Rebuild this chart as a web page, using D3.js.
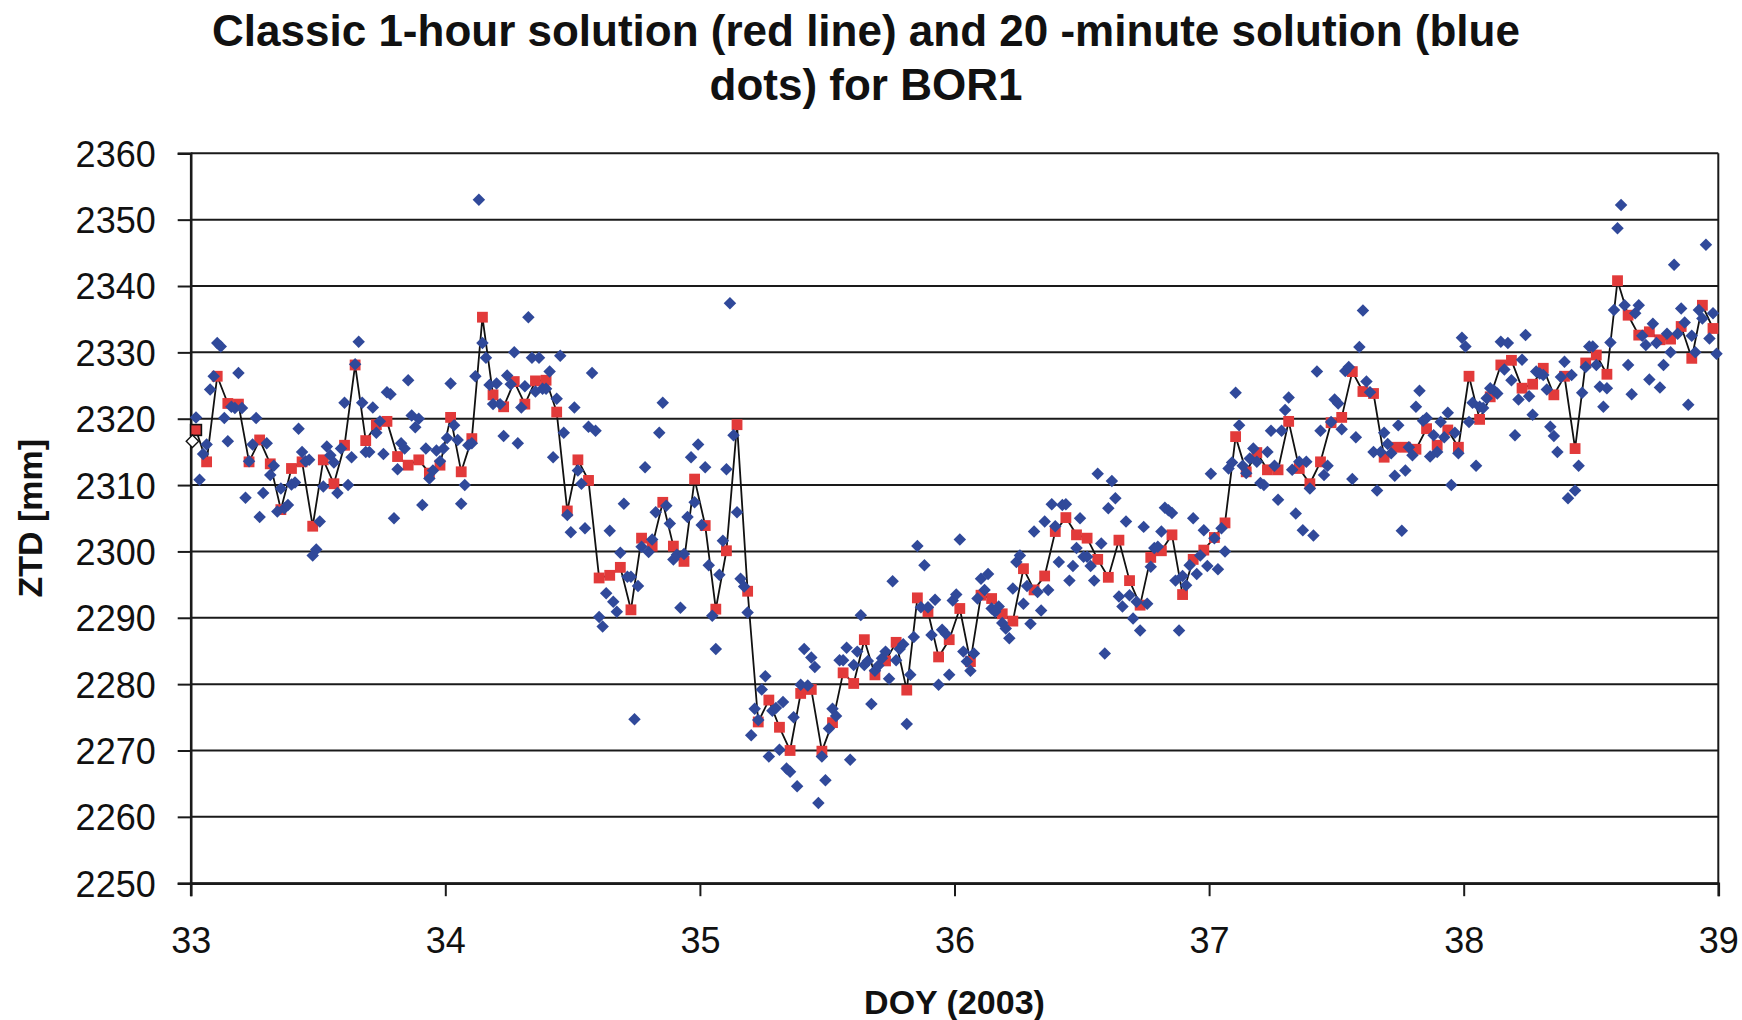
<!DOCTYPE html>
<html>
<head>
<meta charset="utf-8">
<script src="https://cdn.jsdelivr.net/npm/d3@7"></script>
<style>
  html, body { margin: 0; padding: 0; background: #ffffff; }
  svg { display: block; font-family: "Liberation Sans", Arial, sans-serif; }
</style>
</head>
<body>
<svg id="chart" width="1742" height="1020"></svg>
<script>
// ZTD for station BOR1, DOY 33-38 of 2003 [mm]
// Classic 1-hour solution: 24 epochs per day (mid-session)
const ztd1h_33 = [2318.3, 2313.5, 2326.4, 2322.3, 2322.2, 2313.5, 2316.8, 2313.2, 2306.3, 2312.5, 2313.5, 2303.8, 2313.8, 2310.2, 2316.0, 2328.1, 2316.7, 2319.1, 2319.6, 2314.3, 2313.0, 2313.8, 2311.8, 2313.0];
const ztd1h_34 = [2320.2, 2312.0, 2317.0, 2335.3, 2323.6, 2321.8, 2325.6, 2322.2, 2325.7, 2325.8, 2321.0, 2306.1, 2313.8, 2310.7, 2296.0, 2296.4, 2297.6, 2291.2, 2302.0, 2300.8, 2307.4, 2300.8, 2298.5, 2310.9];
const ztd1h_35 = [2303.9, 2291.3, 2300.1, 2319.1, 2294.0, 2274.3, 2277.6, 2273.5, 2270.0, 2278.6, 2279.2, 2269.9, 2274.2, 2281.7, 2280.1, 2286.7, 2281.4, 2283.5, 2286.3, 2279.1, 2293.0, 2290.9, 2284.1, 2286.7];
const ztd1h_36 = [2291.4, 2283.4, 2293.4, 2292.9, 2290.6, 2289.5, 2297.4, 2294.2, 2296.3, 2303.0, 2305.1, 2302.5, 2302.0, 2298.8, 2296.1, 2301.7, 2295.6, 2291.9, 2299.1, 2300.1, 2302.5, 2293.5, 2298.8, 2300.2];
const ztd1h_37 = [2302.1, 2304.3, 2317.3, 2312.0, 2314.9, 2312.3, 2312.3, 2319.6, 2312.5, 2310.2, 2313.5, 2319.4, 2320.2, 2327.1, 2324.1, 2323.8, 2314.2, 2315.7, 2315.7, 2315.4, 2318.5, 2316.0, 2318.3, 2315.7];
const ztd1h_38 = [2326.4, 2319.9, 2323.3, 2328.1, 2328.8, 2324.6, 2325.2, 2327.6, 2323.6, 2326.4, 2315.5, 2328.4, 2329.6, 2326.7, 2340.8, 2335.6, 2332.6, 2333.1, 2331.9, 2332.0, 2333.9, 2329.1, 2337.1, 2333.6];

// 20-minute solution: 72 epochs per day (mid-session)
const ztd20_33 = [2316.6, 2320.2, 2310.8, 2314.7, 2316.1, 2324.4, 2326.4, 2331.4, 2330.9, 2320.1,
  2316.6, 2321.8, 2321.6, 2326.9, 2321.6, 2308.1, 2313.6, 2316.1, 2320.1, 2305.2,
  2308.8, 2316.3, 2311.5, 2312.9, 2306.0, 2309.5, 2306.5, 2307.0, 2310.1, 2310.4,
  2318.5, 2315.0, 2313.6, 2313.8, 2299.4, 2300.3, 2304.5, 2309.8, 2315.8, 2314.5,
  2313.4, 2308.8, 2315.5, 2322.4, 2310.0, 2314.2, 2328.2, 2331.6, 2322.4, 2315.0,
  2315.0, 2321.7, 2317.9, 2319.6, 2314.7, 2324.0, 2323.7, 2305.0, 2312.4, 2316.3,
  2315.5, 2325.8, 2320.5, 2318.7, 2320.0, 2307.0, 2315.5, 2311.0, 2312.2, 2315.2,
  2313.6, 2315.5];
const ztd20_34 = [2317.1, 2325.3, 2319.0, 2316.8, 2307.2, 2310.0, 2316.0, 2316.3, 2326.4, 2353.0,
  2331.4, 2329.2, 2325.1, 2322.2, 2325.3, 2322.2, 2317.4, 2326.5, 2325.2, 2330.0,
  2316.3, 2321.7, 2324.9, 2335.3, 2329.2, 2324.1, 2329.2, 2324.5, 2324.5, 2327.1,
  2314.2, 2323.0, 2329.5, 2317.9, 2305.5, 2302.9, 2321.7, 2312.2, 2310.2, 2303.5,
  2318.8, 2326.9, 2318.2, 2290.1, 2288.7, 2293.7, 2303.1, 2292.4, 2290.9, 2299.8,
  2307.2, 2296.2, 2296.2, 2274.7, 2294.8, 2300.7, 2312.7, 2299.9, 2301.8, 2305.9,
  2317.9, 2322.4, 2306.9, 2304.2, 2298.8, 2299.5, 2291.5, 2299.6, 2305.2, 2314.2,
  2307.4, 2316.1];
const ztd20_35 = [2304.0, 2312.7, 2297.9, 2290.3, 2285.3, 2296.5, 2301.6, 2312.4, 2337.4, 2317.5,
  2305.9, 2295.9, 2294.7, 2290.8, 2272.3, 2276.3, 2274.6, 2279.2, 2281.2, 2269.1,
  2276.0, 2276.4, 2270.1, 2277.3, 2267.3, 2266.8, 2275.0, 2264.6, 2279.9, 2285.3,
  2279.8, 2284.0, 2282.6, 2262.1, 2269.1, 2265.5, 2273.3, 2276.3, 2275.2, 2283.6,
  2283.6, 2285.5, 2268.6, 2282.9, 2284.9, 2290.4, 2282.9, 2283.5, 2277.0, 2282.0,
  2282.8, 2283.9, 2284.9, 2280.8, 2295.5, 2283.6, 2285.3, 2286.0, 2274.0, 2281.4,
  2287.1, 2300.8, 2291.6, 2297.9, 2291.6, 2287.4, 2292.7, 2279.9, 2288.2, 2287.6,
  2281.4, 2292.6];
const ztd20_36 = [2293.5, 2301.8, 2284.9, 2283.4, 2282.0, 2284.6, 2292.9, 2295.9, 2294.2, 2296.6,
  2291.4, 2290.9, 2291.7, 2289.2, 2288.4, 2286.9, 2294.4, 2298.4, 2299.4, 2292.1,
  2294.8, 2289.1, 2303.0, 2293.9, 2291.1, 2304.5, 2294.2, 2307.1, 2303.8, 2298.4,
  2307.0, 2307.1, 2295.6, 2297.8, 2300.5, 2305.0, 2299.2, 2299.2, 2297.8, 2295.6,
  2311.7, 2301.2, 2284.6, 2306.5, 2310.6, 2308.0, 2293.2, 2291.7, 2304.5, 2293.4,
  2289.9, 2292.4, 2288.1, 2303.7, 2292.1, 2297.7, 2300.5, 2300.7, 2303.0, 2306.6,
  2306.2, 2305.8, 2295.6, 2288.1, 2296.3, 2294.9, 2297.9, 2305.0, 2296.6, 2299.4,
  2303.2, 2297.8];
const ztd20_37 = [2311.7, 2302.0, 2297.3, 2303.5, 2300.0, 2312.5, 2313.4, 2323.9, 2319.0, 2312.9,
  2311.8, 2314.0, 2315.5, 2313.5, 2310.3, 2310.0, 2315.0, 2318.2, 2312.9, 2307.8,
  2318.2, 2321.3, 2323.2, 2312.3, 2305.7, 2313.5, 2303.2, 2313.5, 2309.5, 2302.4,
  2327.1, 2318.2, 2311.5, 2312.9, 2319.5, 2322.9, 2322.3, 2318.4, 2327.2, 2327.8,
  2310.9, 2317.2, 2330.8, 2336.3, 2325.6, 2324.0, 2315.0, 2309.2, 2315.0, 2317.9,
  2316.2, 2314.8, 2311.4, 2319.0, 2303.1, 2312.2, 2315.7, 2314.5, 2321.8, 2324.2,
  2319.7, 2320.1, 2314.3, 2317.5, 2315.0, 2319.5, 2317.2, 2320.9, 2310.0, 2317.9,
  2314.8, 2332.2];
const ztd20_38 = [2330.9, 2319.5, 2322.4, 2312.9, 2321.8, 2321.6, 2323.1, 2324.6, 2324.3, 2323.8,
  2331.6, 2327.4, 2331.4, 2325.8, 2317.5, 2322.9, 2328.9, 2332.6, 2323.4, 2320.6,
  2327.1, 2326.8, 2326.6, 2324.4, 2318.8, 2317.4, 2315.0, 2326.3, 2328.6, 2308.0,
  2326.6, 2309.2, 2312.9, 2323.9, 2327.8, 2330.9, 2330.9, 2328.1, 2324.8, 2321.8,
  2324.6, 2331.5, 2336.4, 2348.7, 2352.2, 2337.1, 2328.1, 2323.7, 2335.9, 2337.1,
  2332.5, 2331.1, 2325.9, 2334.3, 2331.4, 2324.7, 2328.1, 2332.8, 2330.0, 2343.2,
  2332.8, 2336.6, 2334.5, 2322.1, 2332.5, 2330.0, 2336.4, 2335.1, 2346.2, 2332.1,
  2335.9, 2329.8];

const days = [33, 34, 35, 36, 37, 38];
const hourly = [ztd1h_33, ztd1h_34, ztd1h_35, ztd1h_36, ztd1h_37, ztd1h_38];
const twentyMin = [ztd20_33, ztd20_34, ztd20_35, ztd20_36, ztd20_37, ztd20_38];

const xTicks = [33, 34, 35, 36, 37, 38, 39];
const yTicks = [2250, 2260, 2270, 2280, 2290, 2300, 2310, 2320, 2330, 2340, 2350, 2360];

const titleLines = ["Classic 1-hour solution (red line) and 20 -minute solution (blue", "dots) for BOR1"];
const xTitle = "DOY (2003)";
const yTitle = "ZTD [mm]";

// epochs at the middle of each session
function toSeries(perDay) {
  const out = [];
  perDay.forEach((vals, d) => {
    const n = vals.length;
    vals.forEach((v, i) => out.push({ doy: days[d] + (i + 0.5) / n, ztd: v }));
  });
  return out;
}
const hourlySeries = toSeries(hourly);
const minuteSeries = toSeries(twentyMin);

const svg = d3.select("#chart");
const plot = { left: 190.7, right: 1718.3, top: 153.3, bottom: 883.2 };

const x = d3.scaleLinear().domain([33, 39]).range([plot.left, plot.right]);
const y = d3.scaleLinear().domain([2250, 2360]).range([plot.bottom, plot.top]);

const ink = "#1a1a1a";

// horizontal gridlines
svg.append("g")
  .selectAll("line")
  .data(yTicks)
  .join("line")
  .attr("x1", plot.left).attr("x2", plot.right)
  .attr("y1", d => y(d)).attr("y2", d => y(d))
  .attr("stroke", ink).attr("stroke-width", 2);

// right border of the plot area
svg.append("line")
  .attr("x1", plot.right).attr("x2", plot.right)
  .attr("y1", plot.top).attr("y2", plot.bottom)
  .attr("stroke", ink).attr("stroke-width", 2);

// y axis
const yAxis = svg.append("g")
  .attr("transform", `translate(${plot.left},0)`)
  .call(d3.axisLeft(y).tickValues(yTicks).tickSize(13).tickPadding(22).tickFormat(d3.format("d")));
yAxis.select(".domain").attr("stroke", ink).attr("stroke-width", 2.6);
yAxis.selectAll(".tick line").attr("stroke", ink).attr("stroke-width", 2);
yAxis.selectAll(".tick text").attr("font-size", 36).attr("fill", "#111").attr("dy", "0.36em")
  .attr("font-family", "'Liberation Sans', Arial, sans-serif");

// x axis
const xAxis = svg.append("g")
  .attr("transform", `translate(0,${plot.bottom})`)
  .call(d3.axisBottom(x).tickValues(xTicks).tickSize(13).tickPadding(31).tickFormat(d3.format("d")));
xAxis.select(".domain").attr("stroke", ink).attr("stroke-width", 2.6);
xAxis.selectAll(".tick line").attr("stroke", ink).attr("stroke-width", 2);
xAxis.selectAll(".tick text").attr("font-size", 36).attr("fill", "#111")
  .attr("font-family", "'Liberation Sans', Arial, sans-serif");

// 1-hour solution: black line with red squares
const line = d3.line().x(d => x(d.doy)).y(d => y(d.ztd));
svg.append("path")
  .datum(hourlySeries)
  .attr("d", line)
  .attr("fill", "none")
  .attr("stroke", "#111")
  .attr("stroke-width", 1.8)
  .attr("stroke-linejoin", "round");

const sq = 10.8;
svg.append("g")
  .selectAll("rect")
  .data(hourlySeries)
  .join("rect")
  .attr("x", d => x(d.doy) - sq / 2)
  .attr("y", d => y(d.ztd) - sq / 2)
  .attr("width", sq).attr("height", sq)
  .attr("fill", "#e23a3a")
  .attr("stroke", (d, i) => i === 0 ? "#111" : "none")
  .attr("stroke-width", 1.6);

// 20-minute solution: blue diamonds
const diamond = d3.symbol().type(d3.symbolSquare).size(78);
svg.append("g")
  .selectAll("path")
  .data(minuteSeries)
  .join("path")
  .attr("d", diamond)
  .attr("transform", d => `translate(${x(d.doy)},${y(d.ztd)}) rotate(45)`)
  .attr("fill", (d, i) => i === 0 ? "#ffffff" : "#30499a")
  .attr("stroke", (d, i) => i === 0 ? "#111" : "none")
  .attr("stroke-width", 1.4);

// titles
svg.append("g")
  .selectAll("text")
  .data(titleLines)
  .join("text")
  .attr("x", 866)
  .attr("y", (d, i) => 45.5 + i * 54.5)
  .attr("text-anchor", "middle")
  .attr("font-size", 44)
  .attr("font-weight", "bold")
  .attr("fill", "#111")
  .text(d => d);

svg.append("text")
  .attr("x", (plot.left + plot.right) / 2)
  .attr("y", 1014)
  .attr("text-anchor", "middle")
  .attr("font-size", 34)
  .attr("font-weight", "bold")
  .attr("fill", "#111")
  .text(xTitle);

svg.append("text")
  .attr("transform", `translate(42,${(plot.top + plot.bottom) / 2}) rotate(-90)`)
  .attr("text-anchor", "middle")
  .attr("font-size", 34)
  .attr("font-weight", "bold")
  .attr("fill", "#111")
  .text(yTitle);
</script>
</body>
</html>
